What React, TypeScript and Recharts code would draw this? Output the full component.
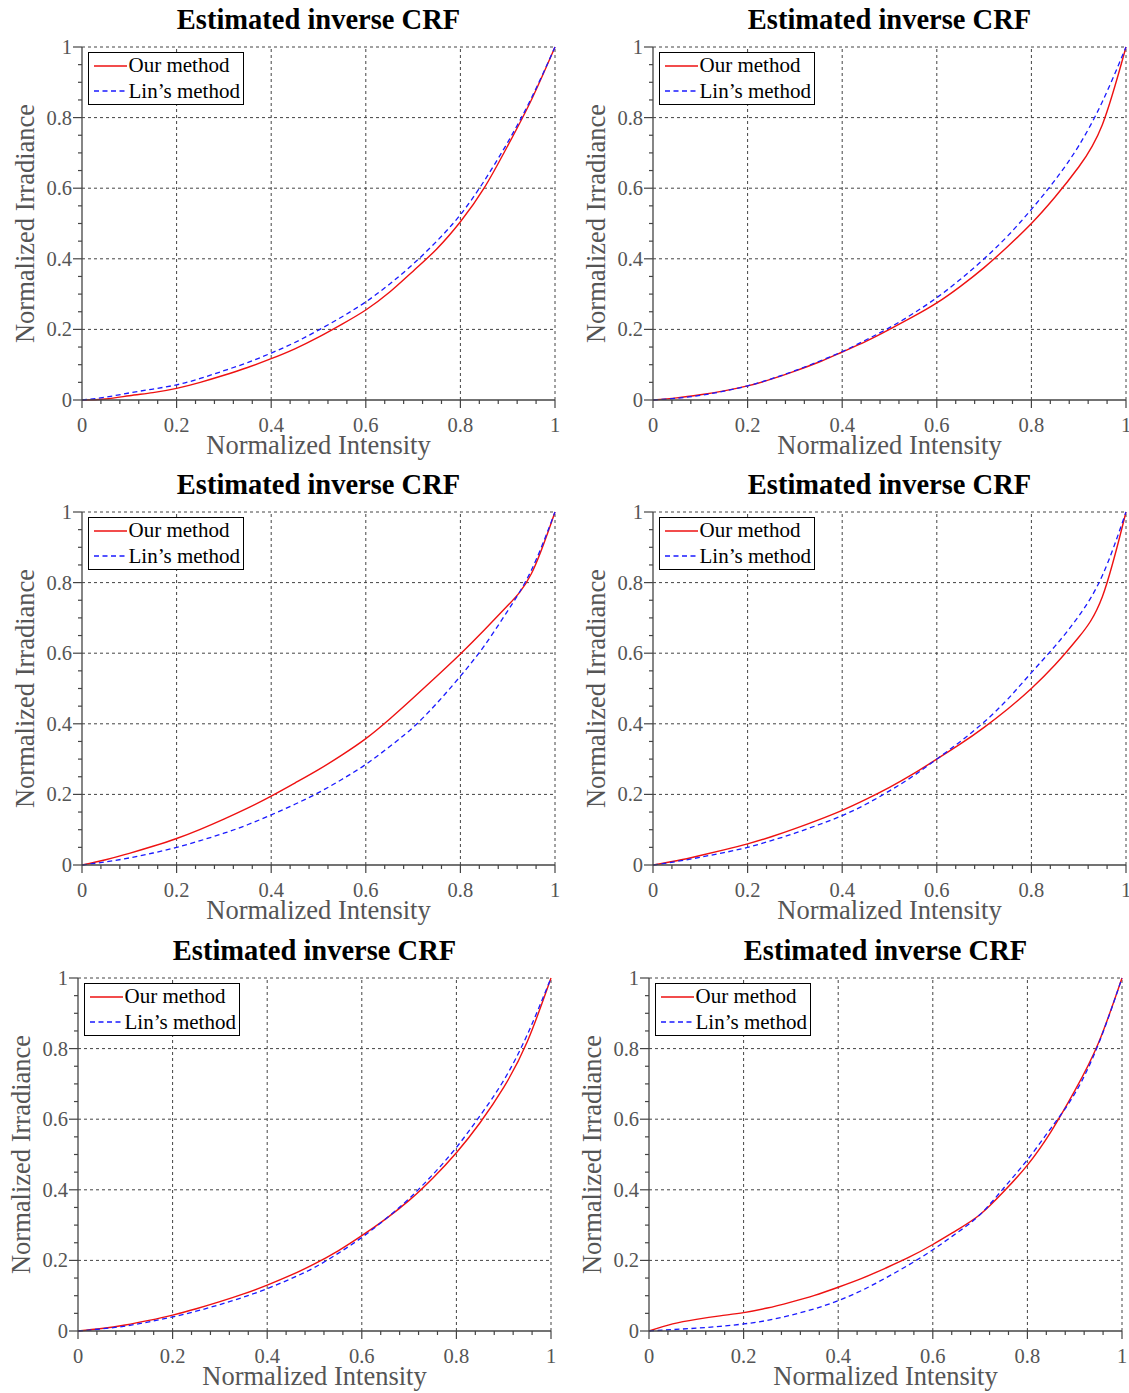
import React from 'react';
import { LineChart, Line, XAxis, YAxis, ReferenceLine, Legend } from 'recharts';

// sample positions along normalized intensity, shared by every panel
const xs = [0, 0.05, 0.1, 0.15, 0.2, 0.25, 0.3, 0.35, 0.4, 0.45, 0.5, 0.55, 0.6, 0.65, 0.7, 0.75, 0.8, 0.85, 0.9, 0.95, 1];

const ours1 = [0, 0.003, 0.012, 0.021, 0.033, 0.05, 0.07, 0.092, 0.117, 0.145, 0.178, 0.215, 0.255, 0.305, 0.365, 0.428, 0.505, 0.6, 0.72, 0.85, 1];
const lins1 = [0, 0.008, 0.02, 0.031, 0.043, 0.061, 0.083, 0.106, 0.133, 0.163, 0.198, 0.236, 0.278, 0.328, 0.385, 0.45, 0.525, 0.62, 0.73, 0.855, 1];
const ours2 = [0, 0.006, 0.015, 0.026, 0.04, 0.059, 0.082, 0.107, 0.136, 0.166, 0.2, 0.236, 0.275, 0.322, 0.375, 0.435, 0.5, 0.575, 0.66, 0.78, 1];
const lins2 = [0, 0.005, 0.013, 0.025, 0.04, 0.06, 0.083, 0.109, 0.137, 0.17, 0.205, 0.245, 0.29, 0.342, 0.4, 0.465, 0.54, 0.623, 0.72, 0.845, 1];
const ours3 = [0, 0.015, 0.033, 0.053, 0.075, 0.101, 0.13, 0.161, 0.195, 0.232, 0.27, 0.312, 0.358, 0.413, 0.473, 0.535, 0.598, 0.665, 0.735, 0.825, 1];
const lins3 = [0, 0.009, 0.02, 0.034, 0.05, 0.069, 0.09, 0.114, 0.142, 0.172, 0.205, 0.243, 0.285, 0.335, 0.39, 0.458, 0.535, 0.62, 0.72, 0.835, 1];
const ours4 = [0, 0.012, 0.027, 0.043, 0.06, 0.08, 0.103, 0.128, 0.155, 0.186, 0.22, 0.258, 0.3, 0.343, 0.39, 0.442, 0.5, 0.567, 0.645, 0.76, 1];
const lins4 = [0, 0.01, 0.022, 0.035, 0.05, 0.069, 0.09, 0.114, 0.14, 0.172, 0.21, 0.252, 0.3, 0.35, 0.405, 0.47, 0.545, 0.62, 0.705, 0.82, 1];
const ours5 = [0, 0.007, 0.017, 0.03, 0.045, 0.063, 0.083, 0.105, 0.13, 0.158, 0.19, 0.227, 0.27, 0.317, 0.37, 0.433, 0.505, 0.59, 0.69, 0.82, 1];
const lins5 = [0, 0.006, 0.014, 0.026, 0.04, 0.056, 0.075, 0.096, 0.12, 0.148, 0.18, 0.22, 0.265, 0.317, 0.375, 0.443, 0.52, 0.61, 0.71, 0.84, 1];
const ours6 = [0, 0.02, 0.033, 0.043, 0.052, 0.065, 0.082, 0.101, 0.124, 0.149, 0.178, 0.209, 0.245, 0.285, 0.33, 0.395, 0.47, 0.565, 0.68, 0.815, 1];
const lins6 = [0, 0.004, 0.008, 0.013, 0.02, 0.03, 0.045, 0.063, 0.086, 0.115, 0.15, 0.188, 0.23, 0.277, 0.33, 0.405, 0.485, 0.575, 0.672, 0.812, 1];

const xTicks = [0, 0.04, 0.08, 0.12, 0.16, 0.2, 0.24, 0.28, 0.32, 0.36, 0.4, 0.44, 0.48, 0.52, 0.56, 0.6, 0.64, 0.68, 0.72, 0.76, 0.8, 0.84, 0.88, 0.92, 0.96, 1];
const yTicks = [0, 0.05, 0.1, 0.15, 0.2, 0.25, 0.3, 0.35, 0.4, 0.45, 0.5, 0.55, 0.6, 0.65, 0.7, 0.75, 0.8, 0.85, 0.9, 0.95, 1];
const majorTicks = [0, 0.2, 0.4, 0.6, 0.8, 1];
const majorLabels = ['0', '0.2', '0.4', '0.6', '0.8', '1'];
const gridLines = [0.2, 0.4, 0.6, 0.8, 1];

const TITLE = 'Estimated inverse CRF';
const X_LABEL = 'Normalized Intensity';
const Y_LABEL = 'Normalized Irradiance';
const SERIES_OURS = 'Our method';
const SERIES_LINS = 'Lin\u2019s method';

const FONT = '"Liberation Serif", "Times New Roman", serif';
const AXIS = '#444';
const GRAY_TEXT = '#555';
const RED = '#ee1111';
const BLUE = '#1a1aff';

// plot area origin (left, top) on the page for each panel
const panels = [
  { left: 82, top: 47, ours: ours1, lins: lins1 },
  { left: 653, top: 47, ours: ours2, lins: lins2 },
  { left: 82, top: 512, ours: ours3, lins: lins3 },
  { left: 653, top: 512, ours: ours4, lins: lins4 },
  { left: 78, top: 978, ours: ours5, lins: lins5 },
  { left: 649, top: 978, ours: ours6, lins: lins6 },
];

const PL = 82;   // space left of plot inside a panel
const PT = 47;   // space above plot
const PW = 473;
const PH = 353;
const PR = 12;

const majorIndex = (v: number) => majorTicks.indexOf(v);

const XTick = (props: any) => {
  const { x, y, payload } = props;
  const i = majorIndex(payload.value);
  return (
    <g>
      <line x1={x} x2={x} y1={y} y2={y + (i >= 0 ? 8 : 4)} stroke={AXIS} strokeWidth={1.2} />
      {i >= 0 && (
        <text x={x} y={y + 32} textAnchor="middle" fontFamily={FONT} fontSize={20.5} fill={GRAY_TEXT}>
          {majorLabels[i]}
        </text>
      )}
    </g>
  );
};

const YTick = (props: any) => {
  const { x, y, payload } = props;
  const i = majorIndex(payload.value);
  return (
    <g>
      <line x1={x} x2={x - (i >= 0 ? 9 : 4)} y1={y} y2={y} stroke={AXIS} strokeWidth={1.2} />
      {i >= 0 && (
        <text x={x - 10} y={y + 7} textAnchor="end" fontFamily={FONT} fontSize={20.5} fill={GRAY_TEXT}>
          {majorLabels[i]}
        </text>
      )}
    </g>
  );
};

const LegendBox = () => (
  <div
    style={{
      border: '1.4px solid #000',
      background: '#fff',
      padding: '0px 3px 0px 5px',
      fontFamily: FONT,
      fontSize: 21,
      lineHeight: '25.5px',
      color: '#000',
      whiteSpace: 'nowrap',
    }}
  >
    <div style={{ display: 'flex', alignItems: 'center' }}>
      <svg width={35} height={10}>
        <line x1={0} x2={33} y1={5} y2={5} stroke={RED} strokeWidth={1.3} />
      </svg>
      <span>{SERIES_OURS}</span>
    </div>
    <div style={{ display: 'flex', alignItems: 'center' }}>
      <svg width={35} height={10}>
        <line x1={0} x2={33} y1={5} y2={5} stroke={BLUE} strokeWidth={1.3} strokeDasharray="5 3.5" />
      </svg>
      <span>{SERIES_LINS}</span>
    </div>
  </div>
);

const Panel = ({ left, top, ours, lins }: { left: number; top: number; ours: number[]; lins: number[] }) => {
  const data = xs.map((x, i) => ({ x, ours: ours[i], lins: lins[i] }));
  const W = PL + PW + PR;
  const H = PT + PH + 70;
  return (
    <div style={{ position: 'absolute', left: left - PL, top: top - PT, width: W, height: H }}>
      <LineChart width={W} height={H} data={data} margin={{ top: PT, right: PR, bottom: 0, left: 0 }}>
        {gridLines.map((g) => (
          <ReferenceLine key={'gx' + g} x={g} stroke={AXIS} strokeWidth={1} strokeDasharray="3 3" />
        ))}
        {gridLines.map((g) => (
          <ReferenceLine key={'gy' + g} y={g} stroke={AXIS} strokeWidth={1} strokeDasharray="3 3" />
        ))}
        <XAxis
          dataKey="x"
          type="number"
          domain={[0, 1]}
          ticks={xTicks}
          interval={0}
          height={70}
          tickSize={0}
          tickMargin={0}
          tickLine={false}
          axisLine={{ stroke: AXIS, strokeWidth: 1.3 }}
          tick={XTick}
        />
        <YAxis
          type="number"
          domain={[0, 1]}
          ticks={yTicks}
          interval={0}
          width={PL}
          tickSize={0}
          tickMargin={0}
          tickLine={false}
          axisLine={{ stroke: AXIS, strokeWidth: 1.3 }}
          tick={YTick}
        />
        <Legend
          layout="vertical"
          align="center"
          verticalAlign="middle"
          content={() => <LegendBox />}
          wrapperStyle={{ left: PL + 5.5, top: PT + 5, width: 'auto' }}
        />
        <Line
          type="natural"
          dataKey="ours"
          name={SERIES_OURS}
          stroke={RED}
          strokeWidth={1.4}
          dot={false}
          isAnimationActive={false}
        />
        <Line
          type="natural"
          dataKey="lins"
          name={SERIES_LINS}
          stroke={BLUE}
          strokeWidth={1.3}
          strokeDasharray="5 3.5"
          dot={false}
          isAnimationActive={false}
        />
      </LineChart>
      <svg
        width={W}
        height={H}
        style={{ position: 'absolute', left: 0, top: 0, pointerEvents: 'none' }}
      >
        <text x={PL + PW / 2} y={29} textAnchor="middle" fontFamily={FONT} fontSize={28.5} fontWeight="bold" fill="#000">
          {TITLE}
        </text>
        <text x={PL + PW / 2} y={PT + PH + 54} textAnchor="middle" fontFamily={FONT} fontSize={26.5} fill={GRAY_TEXT}>
          {X_LABEL}
        </text>
        <text
          x={0}
          y={0}
          transform={`translate(${PL - 48}, ${PT + PH / 2}) rotate(-90)`}
          textAnchor="middle"
          fontFamily={FONT}
          fontSize={26.5}
          fill={GRAY_TEXT}
        >
          {Y_LABEL}
        </text>
      </svg>
    </div>
  );
}

export default function App() {
  return (
    <div
      style={{
        position: 'absolute',
        left: 0,
        top: 0,
        width: 1129,
        height: 1393,
        overflow: 'hidden',
        background: '#fff',
      }}
    >
      {panels.map((p, i) => (
        <Panel key={i} {...p} />
      ))}
    </div>
  );
}
